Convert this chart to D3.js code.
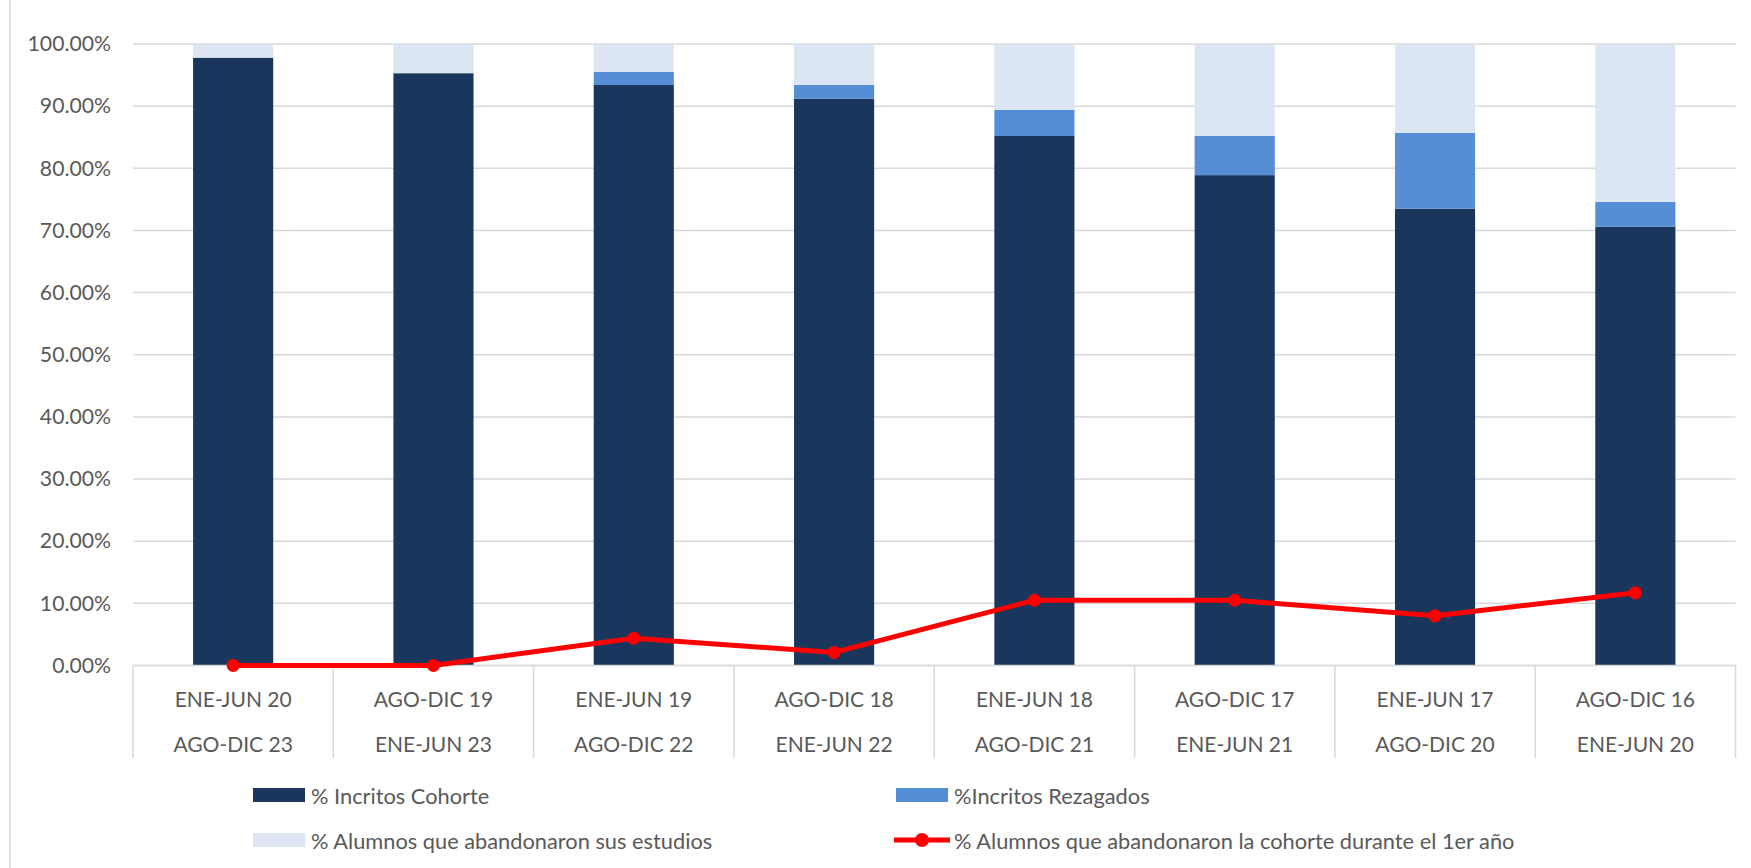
<!DOCTYPE html>
<html><head><meta charset="utf-8">
<script src="https://cdn.jsdelivr.net/npm/d3@7"></script>
<style>html,body{margin:0;padding:0;background:#fff;} svg{display:block;}</style>
</head><body>
<svg id="chart" width="1751" height="868"></svg>
<script>
const catLine1 = ["ENE-JUN 20","AGO-DIC 19","ENE-JUN 19","AGO-DIC 18","ENE-JUN 18","AGO-DIC 17","ENE-JUN 17","AGO-DIC 16"];
const catLine2 = ["AGO-DIC 23","ENE-JUN 23","AGO-DIC 22","ENE-JUN 22","AGO-DIC 21","ENE-JUN 21","AGO-DIC 20","ENE-JUN 20"];
const cohorte   = [97.8, 95.3, 93.4, 91.2, 85.2, 78.9, 73.5, 70.6];
const rezagados = [0.0, 0.0, 2.1, 2.2, 4.2, 6.3, 12.2, 4.0];
const abandono  = [2.2, 4.7, 4.5, 6.6, 10.6, 14.8, 14.3, 25.4];
const abandono1 = [0.0, 0.0, 4.4, 2.1, 10.5, 10.5, 8.0, 11.7];
const yTicks = [0,10,20,30,40,50,60,70,80,90,100];
const seriesNames = ["% Incritos Cohorte","%Incritos Rezagados","% Alumnos que abandonaron sus estudios","% Alumnos que abandonaron la cohorte durante el 1er año"];
const colors = ["#1a365d","#558ed5","#dce6f2","#ff0000"];

const svg = d3.select("#chart");
const FONT = "Lato, 'Open Sans', sans-serif";
const TXT = "#595959";
const GRID = "#d9d9d9";

// outer border
svg.append("rect").attr("x",10).attr("y",-2).attr("width",1760).attr("height",880)
  .attr("fill","none").attr("stroke",GRID).attr("stroke-width",1.5);

const idx = d3.range(catLine1.length);
const x = d3.scaleBand().domain(idx).range([133,1735.5]).paddingInner(0.6).paddingOuter(0.3);
const y = d3.scaleLinear().domain([0,100]).range([665.5,44]);

// gridlines
svg.append("g").selectAll("line").data(yTicks).join("line")
  .attr("x1",133).attr("x2",1735.5)
  .attr("y1",d=>y(d)).attr("y2",d=>y(d))
  .attr("stroke",GRID).attr("stroke-width",1.5);

// y axis labels
const yAxis = d3.axisLeft(y).tickValues(yTicks).tickSize(0).tickPadding(0)
  .tickFormat(d=>d.toFixed(2)+"%");
const gy = svg.append("g").attr("transform","translate(111,0)").call(yAxis);
gy.select(".domain").remove();
gy.selectAll("text").attr("font-family",FONT).attr("font-size",21.2).attr("fill",TXT);

// stacked bars
const rows = idx.map(i=>({i, c:cohorte[i], r:rezagados[i], a:abandono[i]}));
const stack = d3.stack().keys(["c","r","a"])(rows);
svg.append("g").selectAll("g").data(stack).join("g")
  .attr("fill",(d,k)=>colors[k])
  .selectAll("rect").data(d=>d).join("rect")
  .attr("x",d=>x(d.data.i))
  .attr("width",x.bandwidth())
  .attr("y",d=>y(d[1]))
  .attr("height",d=>Math.max(0,y(d[0])-y(d[1])));

// category table lines
const bounds = idx.map(i=>133 + i*x.step());
bounds.push(1735.5);
svg.append("g").selectAll("line").data(bounds).join("line")
  .attr("x1",d=>d).attr("x2",d=>d).attr("y1",665.5).attr("y2",758)
  .attr("stroke",GRID).attr("stroke-width",1.5);
svg.append("line").attr("x1",133).attr("x2",1735.5).attr("y1",665.5).attr("y2",665.5)
  .attr("stroke",GRID).attr("stroke-width",1.5);

// category labels
const xl = svg.append("g").attr("font-family",FONT).attr("font-size",21).attr("fill",TXT).attr("text-anchor","middle");
xl.selectAll("text.l1").data(idx).join("text").attr("class","l1")
  .attr("x",i=>x(i)+x.bandwidth()/2).attr("y",698).attr("dominant-baseline","central").text(i=>catLine1[i]);
xl.selectAll("text.l2").data(idx).join("text").attr("class","l2")
  .attr("x",i=>x(i)+x.bandwidth()/2).attr("y",743).attr("dominant-baseline","central").text(i=>catLine2[i]);

// line series
const line = d3.line().x(i=>x(i)+x.bandwidth()/2).y(i=>y(abandono1[i]));
svg.append("path").datum(idx).attr("d",line).attr("fill","none")
  .attr("stroke",colors[3]).attr("stroke-width",5).attr("stroke-linejoin","round");
svg.append("g").selectAll("circle").data(idx).join("circle")
  .attr("cx",i=>x(i)+x.bandwidth()/2).attr("cy",i=>y(abandono1[i])).attr("r",6.5)
  .attr("fill",colors[3]);

// legend
const leg = svg.append("g").attr("font-family",FONT).attr("font-size",21.8).attr("fill",TXT);
const legItems = [
  {k:0, x:253, y:795},
  {k:1, x:896, y:795},
  {k:2, x:253, y:840},
  {k:3, x:896, y:840}
];
legItems.forEach(it=>{
  if(it.k<3){
    leg.append("rect").attr("x",it.x).attr("y",it.y-7).attr("width",52).attr("height",14).attr("fill",colors[it.k]);
  } else {
    leg.append("line").attr("x1",it.x-2).attr("x2",it.x+54).attr("y1",it.y).attr("y2",it.y)
      .attr("stroke",colors[3]).attr("stroke-width",5);
    leg.append("circle").attr("cx",it.x+26).attr("cy",it.y).attr("r",7).attr("fill",colors[3]);
  }
  leg.append("text").attr("x",it.x+58).attr("y",it.y).attr("dominant-baseline","central")
    .text(seriesNames[it.k]);
});
</script>
</body></html>
